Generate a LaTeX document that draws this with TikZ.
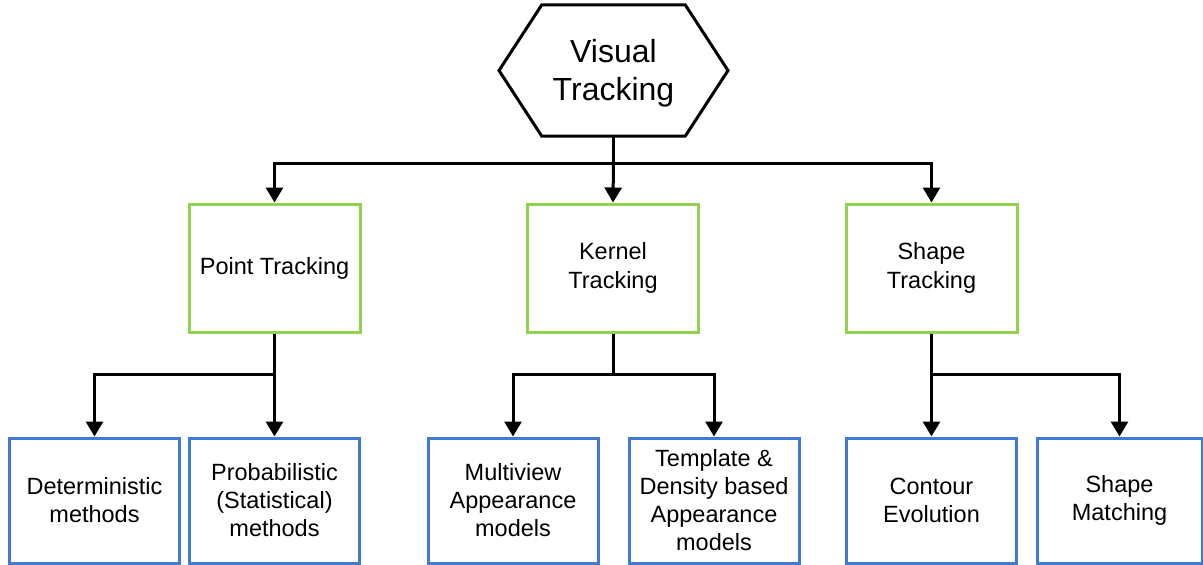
\documentclass[tikz,border=0pt]{standalone}
\usepackage{fontspec}
\setmainfont{Liberation Sans}
\usetikzlibrary{arrows.meta}
\definecolor{boxgreen}{RGB}{146,208,80}
\definecolor{boxblue}{RGB}{66,122,210}
\begin{document}
\begin{tikzpicture}[x=1pt,y=-1pt,
  greenbox/.style={draw=boxgreen,line width=3pt,minimum width=171pt,minimum height=128pt,
    align=center,font=\fontsize{23.5}{29}\selectfont,inner sep=0pt},
  bluebox/.style={draw=boxblue,line width=3pt,minimum width=170pt,minimum height=125pt,
    align=center,font=\fontsize{23.5}{28}\selectfont,inner sep=0pt},
  conn/.style={line width=3pt},
  arr/.style={conn,-{Triangle[width=17pt,length=15pt]}}]
\useasboundingbox (0,0) rectangle (1203,565);
% top hexagon
\node[minimum width=143pt,minimum height=131pt,inner sep=0pt] (vt) at (613.5,70.5) {};
\draw[line width=3pt,line join=miter] (vt.north west) -- (vt.north east) -- (728,70.5)
  -- (vt.south east) -- (vt.south west) -- (499,70.5) -- cycle;
\node[inner sep=0pt,align=center,font=\fontsize{32}{38}\selectfont] (vtl) at (613.5,73.5) {Visual\\Tracking};
% level 2
\node[greenbox] (pt) at (274.5,268) {Point Tracking};
\node[greenbox] (kt) at (613,268) {Kernel\\Tracking};
\node[greenbox] (st) at (931.5,268) {Shape\\Tracking};
% level 3
\node[bluebox] (dm) at (94.5,500.5) {Deterministic\\methods};
\node[bluebox] (pm) at (274.5,500.5) {Probabilistic\\(Statistical)\\methods};
\node[bluebox] (mv) at (513,500.5) {Multiview\\Appearance\\models};
\node[bluebox] (td) at (714,500.5) {Template \&\\Density based\\Appearance\\models};
\node[bluebox] (ce) at (931.5,500.5) {Contour\\Evolution};
\node[bluebox,minimum width=165pt] (sm) at (1119.5,500.5) {\raisebox{0pt}[\height][0pt]{Shape}\\Matching};
% connectors
\coordinate (j0) at (613.5,163);
\draw[conn] (vt.south) -- (j0);
\draw[arr] (j0) -| (pt.north);
\draw[arr] (j0) -| (st.north);
\draw[arr] (j0) -- (kt.north);
\coordinate (j1) at (274.5,374);
\draw[conn] (pt.south) -- (j1);
\draw[arr] (j1) -| (dm.north);
\draw[arr] (j1) -- (pm.north);
\coordinate (j2) at (613,374);
\draw[conn] (kt.south) -- (j2);
\draw[arr] (j2) -| (mv.north);
\draw[arr] (j2) -| (td.north);
\coordinate (j3) at (931.5,374);
\draw[conn] (st.south) -- (j3);
\draw[arr] (j3) -- (ce.north);
\draw[arr] (j3) -| (sm.north);
\end{tikzpicture}
\end{document}
